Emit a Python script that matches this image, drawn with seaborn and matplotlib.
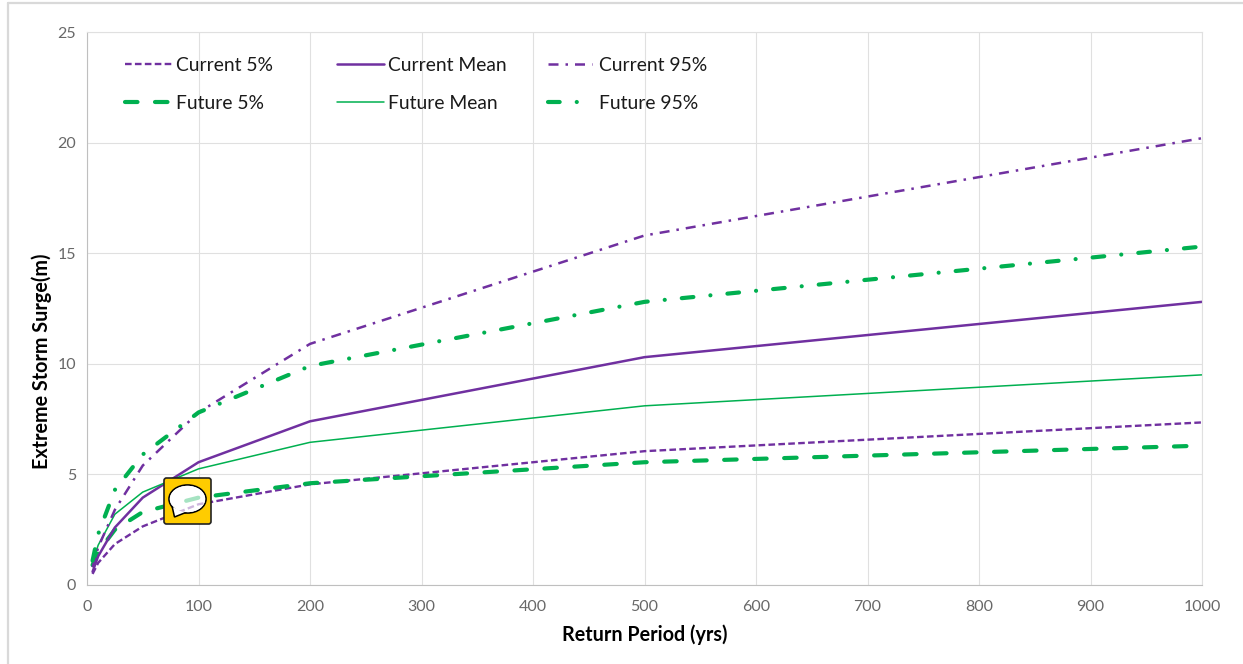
import numpy as np
import pandas as pd
import seaborn as sns
import matplotlib.pyplot as plt
from matplotlib.lines import Line2D
from matplotlib.patches import FancyBboxPatch, Ellipse, Polygon
from matplotlib.transforms import Affine2D

return_period = [5, 10, 25, 50, 100, 200, 500, 1000]
current_5 = [0.5, 1.0, 1.85, 2.65, 3.65, 4.55, 6.05, 7.35]
current_mean = [0.6, 1.3, 2.6, 3.95, 5.55, 7.4, 10.3, 12.8]
current_95 = [0.8, 1.7, 3.4, 5.4, 7.8, 10.9, 15.8, 20.2]
future_5 = [0.9, 1.5, 2.5, 3.3, 3.95, 4.6, 5.55, 6.3]
future_mean = [1.0, 1.8, 3.2, 4.2, 5.25, 6.45, 8.1, 9.5]
future_95 = [1.1, 2.3, 4.3, 5.9, 7.8, 9.9, 12.8, 15.3]

PURPLE = "#7030A0"
GREEN = "#00B050"

sns.set_theme(style="whitegrid")
plt.rcParams['font.family'] = ['Lato', 'DejaVu Sans']

W, H = 1243, 664
fig = plt.figure(figsize=(W / 100, H / 100), dpi=100)
ax = fig.add_axes([87 / W, 1 - 585 / H, (1202 - 87) / W, (585 - 32) / H])

# name, values, colour, width, dash pattern (in line widths), round caps
series = [
    ("Current 5%", current_5, PURPLE, 1.7, (2.8, 1.4), False),
    ("Future 5%", future_5, GREEN, 3.0, (3, 4.2), True),
    ("Current Mean", current_mean, PURPLE, 1.8, "", False),
    ("Future Mean", future_mean, GREEN, 1.1, "", False),
    ("Current 95%", current_95, PURPLE, 1.8, (4, 2.8, 1, 2.8), False),
    ("Future 95%", future_95, GREEN, 3.0, (2.8, 4.1, 0.01, 4.1), True),
]

lines = {}
for name, values, color, lw, dash, rounded in series:
    df = pd.DataFrame({"period": return_period, "surge": values})
    sns.lineplot(data=df, x="period", y="surge", color=color, linewidth=lw,
                 label=name, ax=ax, errorbar=None)
    line = ax.get_lines()[-1]
    if dash:
        line.set_dashes(dash)
    line.set_dash_capstyle("round" if rounded else "butt")
    lines[name] = (line, dash)

ax.set_xlim(0, 1000)
ax.set_ylim(0, 25)
ax.set_xticks(np.arange(0, 1001, 100))
ax.set_yticks(np.arange(0, 26, 5))
ax.grid(True, color="#E0E0E0", linewidth=0.8)
ax.set_axisbelow(True)
ax.tick_params(axis="both", labelsize=11.5, labelcolor="#686868", length=0)
ax.tick_params(axis="x", pad=11)
ax.tick_params(axis="y", pad=8)
for side in ax.spines:
    ax.spines[side].set_color("#E0E0E0")
    ax.spines[side].set_linewidth(0.8)
ax.spines["left"].set_color("#BFBFBF")
ax.spines["bottom"].set_color("#BFBFBF")

ax.set_xlabel("Return Period (yrs)", fontsize=14.2, fontweight="bold", color="black")
ax.xaxis.set_label_coords(0.5, -0.072)
ax.set_ylabel("Extreme Storm Surge(m)", fontsize=14.2, fontweight="bold", color="black")
ax.yaxis.set_label_coords(-0.031, 0.4045)

# one legend per column, the original has them on a fixed grid
handles, labels = ax.get_legend_handles_labels()
column_left = [125, 337, 548]
handle_len = [2.45, 2.45, 2.3]
text_pad = [0.17, 0.17, 0.32]
legends = []
for i, left in enumerate(column_left):
    leg = ax.legend(handles[2 * i:2 * i + 2], labels[2 * i:2 * i + 2], loc="upper left",
                    bbox_to_anchor=((left - 87) / (1202 - 87), (585 - 57) / (585 - 32)),
                    frameon=False, fontsize=13.9, handlelength=handle_len[i], handletextpad=text_pad[i],
                    labelspacing=1.09, borderpad=0, borderaxespad=0, labelcolor="#1a1a1a")
    legends.append(leg)
for leg in legends[:-1]:
    ax.add_artist(leg)

# window border from the screenshot
fig.add_artist(Line2D([7.5 / W, 7.5 / W], [0, 1 - 3 / H], color="#D9D9D9", lw=1.6))
fig.add_artist(Line2D([7.5 / W, 1], [1 - 3 / H, 1 - 3 / H], color="#D9D9D9", lw=1.6))

# comment badge on top of the chart, given in screen pixels
px = Affine2D().scale(1, -1).translate(0, H)
ax.add_patch(FancyBboxPatch((164, 478), 47, 46, boxstyle="round,pad=0,rounding_size=2.5",
                            fc="#FFCC00", ec="#222222", lw=1.2, transform=px, zorder=6, clip_on=False))
ax.add_patch(Ellipse((187.5, 499), 37, 28, fc="white", ec="black", lw=1.2, transform=px, zorder=7, clip_on=False))
ax.add_patch(Polygon([[172, 506], [174.5, 517], [187, 512]], fc="white", ec="black", lw=1.1,
                     transform=px, zorder=7, clip_on=False))
bubble = Ellipse((187.5, 499), 35.4, 26.4, fc="white", ec="none", transform=px, zorder=7, clip_on=False)
ax.add_patch(bubble)

# the lines show faintly through the bubble
for name in ["Current 5%", "Future 5%"]:
    line, dash = lines[name]
    ghost, = ax.plot(*line.get_data(), color=line.get_color(), linewidth=line.get_linewidth(),
                     alpha=0.35, zorder=8)
    ghost.set_dashes(dash)
    ghost.set_dash_capstyle(line.get_dash_capstyle())
    ghost.set_clip_path(bubble)

fig.savefig("out.png", dpi=100)
